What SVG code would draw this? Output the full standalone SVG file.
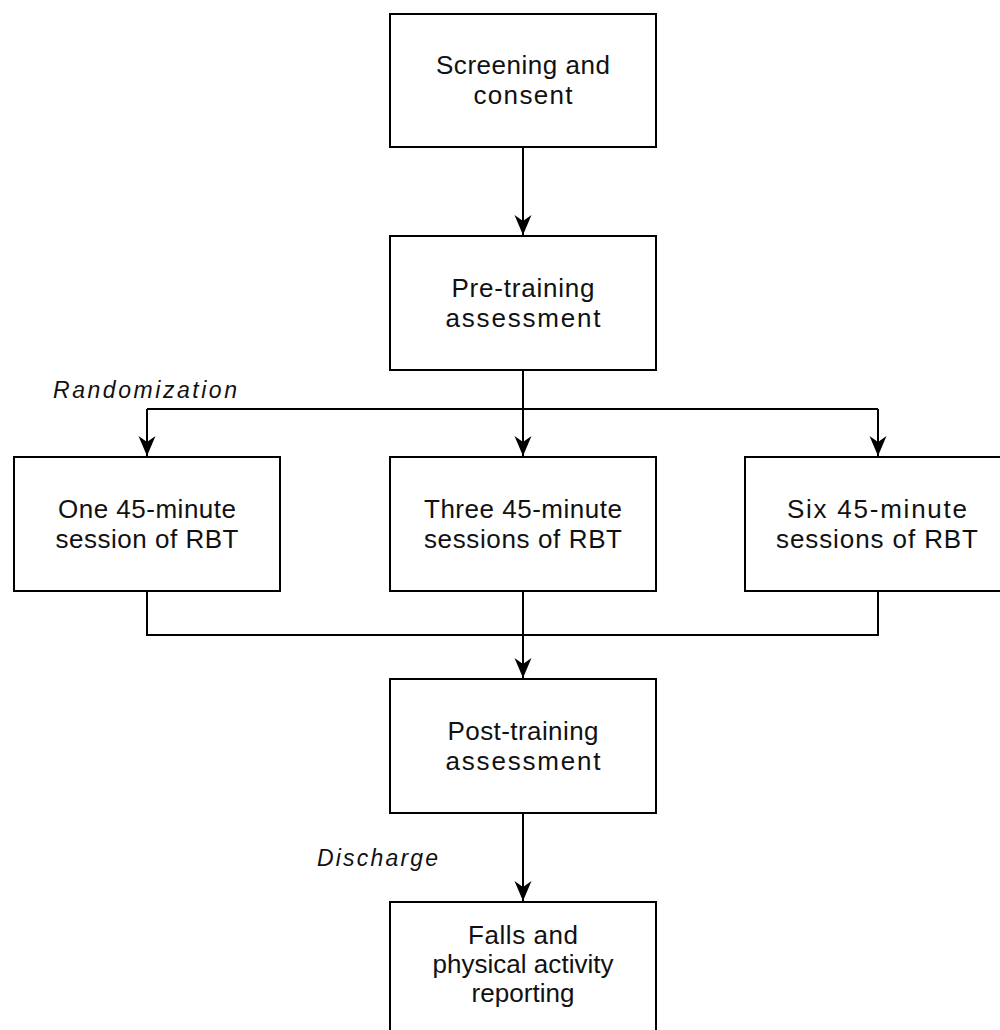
<svg xmlns="http://www.w3.org/2000/svg" width="1000" height="1030" viewBox="0 0 1000 1030">
<style>
.box{fill:#fff;stroke:#000;stroke-width:2}
.t{font-family:"Liberation Sans",Arial,sans-serif;font-size:26px;fill:#111;text-anchor:middle}
.l{font-family:"Liberation Sans",Arial,sans-serif;font-size:23px;font-style:italic;fill:#111}
.c{fill:none;stroke:#000;stroke-width:2}
</style>
<defs>
<marker id="ah" markerUnits="userSpaceOnUse" markerWidth="22" markerHeight="20" viewBox="-21 -10 22 20" refX="0" refY="0" orient="auto">
<path d="M0,0 L-20,-8.5 L-14,0 L-20,8.5 Z" fill="#000"/>
</marker>
</defs>
<rect width="1000" height="1030" fill="#fff"/>
<g id="connectors">
<path class="c" d="M523,147 V235" marker-end="url(#ah)"/>
<path class="c" d="M523,370 V456" marker-end="url(#ah)"/>
<path class="c" d="M147,409 H878"/>
<path class="c" d="M147,409 V456" marker-end="url(#ah)"/>
<path class="c" d="M878,409 V456" marker-end="url(#ah)"/>
<path class="c" d="M147,591 V635 H878 V591"/>
<path class="c" d="M523,591 V678" marker-end="url(#ah)"/>
<path class="c" d="M523,813 V901" marker-end="url(#ah)"/>
</g>
<g id="node-screening">
<rect class="box" x="390" y="14" width="266" height="133"/>
<text class="t" x="523" y="74" textLength="174" lengthAdjust="spacing">Screening and</text>
<text class="t" x="523" y="104" textLength="99" lengthAdjust="spacing">consent</text>
</g>
<g id="node-pre">
<rect class="box" x="390" y="236" width="266" height="134"/>
<text class="t" x="523" y="297" textLength="143" lengthAdjust="spacing">Pre-training</text>
<text class="t" x="523" y="327" textLength="155" lengthAdjust="spacing">assessment</text>
</g>
<g id="label-randomization">
<text class="l" x="53" y="398" textLength="184" lengthAdjust="spacing">Randomization</text>
</g>
<g id="node-one">
<rect class="box" x="14" y="457" width="266" height="134"/>
<text class="t" x="147" y="518" textLength="178" lengthAdjust="spacing">One 45-minute</text>
<text class="t" x="147" y="548" textLength="183" lengthAdjust="spacing">session of RBT</text>
</g>
<g id="node-three">
<rect class="box" x="390" y="457" width="266" height="134"/>
<text class="t" x="523" y="518" textLength="198" lengthAdjust="spacing">Three 45-minute</text>
<text class="t" x="523" y="548" textLength="198" lengthAdjust="spacing">sessions of RBT</text>
</g>
<g id="node-six">
<rect class="box" x="745" y="457" width="266" height="134"/>
<text class="t" x="877" y="518" textLength="180" lengthAdjust="spacing">Six 45-minute</text>
<text class="t" x="877" y="548" textLength="202" lengthAdjust="spacing">sessions of RBT</text>
</g>
<g id="node-post">
<rect class="box" x="390" y="679" width="266" height="134"/>
<text class="t" x="523" y="740" textLength="151" lengthAdjust="spacing">Post-training</text>
<text class="t" x="523" y="770" textLength="155" lengthAdjust="spacing">assessment</text>
</g>
<g id="label-discharge">
<text class="l" x="317" y="866" textLength="121" lengthAdjust="spacing">Discharge</text>
</g>
<g id="node-falls">
<rect class="box" x="390" y="902" width="266" height="140"/>
<text class="t" x="523" y="944" textLength="110" lengthAdjust="spacing">Falls and</text>
<text class="t" x="523" y="973" textLength="181" lengthAdjust="spacing">physical activity</text>
<text class="t" x="523" y="1002" textLength="103" lengthAdjust="spacing">reporting</text>
</g>
</svg>
